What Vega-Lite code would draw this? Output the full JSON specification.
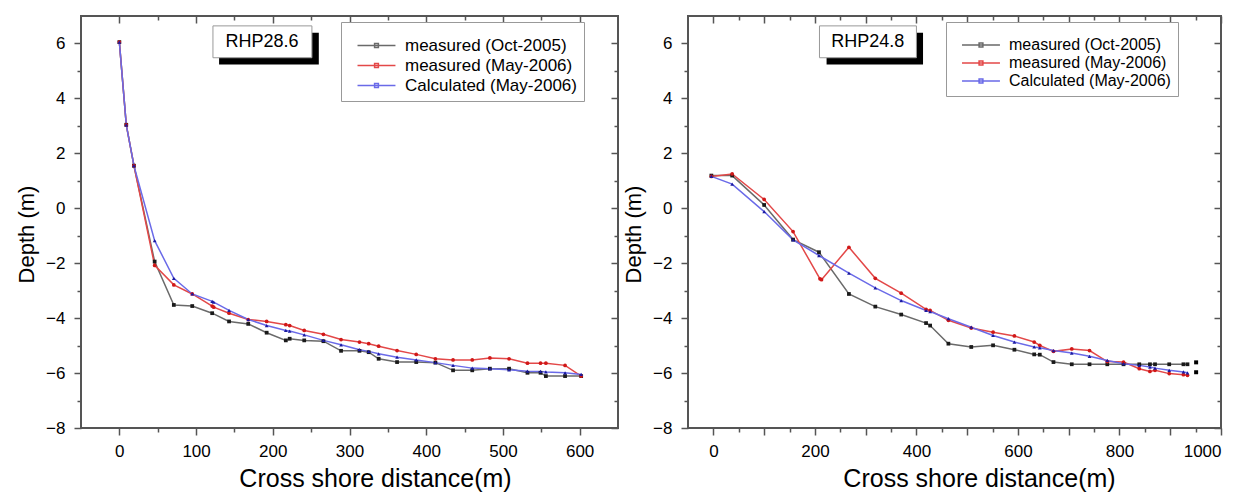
{
  "$schema": "https://vega.github.io/schema/vega-lite/v6.json",
  "padding": {"left": 14, "top": 14, "right": 5, "bottom": 0},
  "config": {
    "view": {"stroke": "#555", "strokeWidth": 2},
    "font": "Liberation Sans",
    "axis": {"labelFont": "Liberation Sans", "labelFontSize": 17, "labelColor": "#000", "titleFont": "Liberation Sans", "titleFontWeight": "normal", "titleColor": "#000", "tickColor": "#555", "tickWidth": 1.5, "domain": false, "grid": false, "format": "d"},
    "legend": {"labelFont": "Liberation Sans", "labelColor": "#000", "labelLimit": 400}
  },
  "datasets": {
    "left": [
      {"s": "measured (Oct-2005)", "x": 0, "y": 6.05}, {"s": "measured (Oct-2005)", "x": 9, "y": 3.04}, {"s": "measured (Oct-2005)", "x": 19, "y": 1.55}, {"s": "measured (Oct-2005)", "x": 46, "y": -1.94}, {"s": "measured (Oct-2005)", "x": 71, "y": -3.52}, {"s": "measured (Oct-2005)", "x": 95, "y": -3.56}, {"s": "measured (Oct-2005)", "x": 121, "y": -3.82}, {"s": "measured (Oct-2005)", "x": 143, "y": -4.12}, {"s": "measured (Oct-2005)", "x": 168, "y": -4.21}, {"s": "measured (Oct-2005)", "x": 192, "y": -4.53}, {"s": "measured (Oct-2005)", "x": 217, "y": -4.81}, {"s": "measured (Oct-2005)", "x": 222, "y": -4.75}, {"s": "measured (Oct-2005)", "x": 241, "y": -4.81}, {"s": "measured (Oct-2005)", "x": 266, "y": -4.84}, {"s": "measured (Oct-2005)", "x": 289, "y": -5.19}, {"s": "measured (Oct-2005)", "x": 313, "y": -5.19}, {"s": "measured (Oct-2005)", "x": 325, "y": -5.24}, {"s": "measured (Oct-2005)", "x": 338, "y": -5.48}, {"s": "measured (Oct-2005)", "x": 362, "y": -5.6}, {"s": "measured (Oct-2005)", "x": 387, "y": -5.6}, {"s": "measured (Oct-2005)", "x": 412, "y": -5.62}, {"s": "measured (Oct-2005)", "x": 435, "y": -5.9}, {"s": "measured (Oct-2005)", "x": 460, "y": -5.9}, {"s": "measured (Oct-2005)", "x": 483, "y": -5.84}, {"s": "measured (Oct-2005)", "x": 508, "y": -5.84}, {"s": "measured (Oct-2005)", "x": 532, "y": -5.99}, {"s": "measured (Oct-2005)", "x": 549, "y": -5.99}, {"s": "measured (Oct-2005)", "x": 556, "y": -6.11}, {"s": "measured (Oct-2005)", "x": 581, "y": -6.11}, {"s": "measured (Oct-2005)", "x": 602, "y": -6.11},
      {"s": "measured (May-2006)", "x": 0, "y": 6.05}, {"s": "measured (May-2006)", "x": 9, "y": 3.04}, {"s": "measured (May-2006)", "x": 19, "y": 1.55}, {"s": "measured (May-2006)", "x": 46, "y": -2.08}, {"s": "measured (May-2006)", "x": 71, "y": -2.79}, {"s": "measured (May-2006)", "x": 95, "y": -3.12}, {"s": "measured (May-2006)", "x": 121, "y": -3.56}, {"s": "measured (May-2006)", "x": 123, "y": -3.6}, {"s": "measured (May-2006)", "x": 143, "y": -3.82}, {"s": "measured (May-2006)", "x": 168, "y": -4.05}, {"s": "measured (May-2006)", "x": 192, "y": -4.12}, {"s": "measured (May-2006)", "x": 217, "y": -4.24}, {"s": "measured (May-2006)", "x": 222, "y": -4.27}, {"s": "measured (May-2006)", "x": 241, "y": -4.45}, {"s": "measured (May-2006)", "x": 266, "y": -4.59}, {"s": "measured (May-2006)", "x": 289, "y": -4.78}, {"s": "measured (May-2006)", "x": 313, "y": -4.87}, {"s": "measured (May-2006)", "x": 325, "y": -4.93}, {"s": "measured (May-2006)", "x": 338, "y": -5.02}, {"s": "measured (May-2006)", "x": 362, "y": -5.18}, {"s": "measured (May-2006)", "x": 387, "y": -5.32}, {"s": "measured (May-2006)", "x": 412, "y": -5.48}, {"s": "measured (May-2006)", "x": 435, "y": -5.52}, {"s": "measured (May-2006)", "x": 460, "y": -5.52}, {"s": "measured (May-2006)", "x": 483, "y": -5.45}, {"s": "measured (May-2006)", "x": 508, "y": -5.48}, {"s": "measured (May-2006)", "x": 532, "y": -5.64}, {"s": "measured (May-2006)", "x": 549, "y": -5.64}, {"s": "measured (May-2006)", "x": 556, "y": -5.64}, {"s": "measured (May-2006)", "x": 581, "y": -5.72}, {"s": "measured (May-2006)", "x": 602, "y": -6.11},
      {"s": "Calculated (May-2006)", "x": 0, "y": 6.05}, {"s": "Calculated (May-2006)", "x": 9, "y": 3.04}, {"s": "Calculated (May-2006)", "x": 19, "y": 1.55}, {"s": "Calculated (May-2006)", "x": 46, "y": -1.18}, {"s": "Calculated (May-2006)", "x": 71, "y": -2.55}, {"s": "Calculated (May-2006)", "x": 95, "y": -3.12}, {"s": "Calculated (May-2006)", "x": 121, "y": -3.39}, {"s": "Calculated (May-2006)", "x": 123, "y": -3.42}, {"s": "Calculated (May-2006)", "x": 143, "y": -3.72}, {"s": "Calculated (May-2006)", "x": 168, "y": -4.05}, {"s": "Calculated (May-2006)", "x": 192, "y": -4.27}, {"s": "Calculated (May-2006)", "x": 217, "y": -4.45}, {"s": "Calculated (May-2006)", "x": 222, "y": -4.47}, {"s": "Calculated (May-2006)", "x": 241, "y": -4.61}, {"s": "Calculated (May-2006)", "x": 266, "y": -4.81}, {"s": "Calculated (May-2006)", "x": 289, "y": -4.97}, {"s": "Calculated (May-2006)", "x": 313, "y": -5.15}, {"s": "Calculated (May-2006)", "x": 325, "y": -5.21}, {"s": "Calculated (May-2006)", "x": 338, "y": -5.3}, {"s": "Calculated (May-2006)", "x": 362, "y": -5.42}, {"s": "Calculated (May-2006)", "x": 387, "y": -5.52}, {"s": "Calculated (May-2006)", "x": 412, "y": -5.62}, {"s": "Calculated (May-2006)", "x": 435, "y": -5.72}, {"s": "Calculated (May-2006)", "x": 460, "y": -5.82}, {"s": "Calculated (May-2006)", "x": 483, "y": -5.84}, {"s": "Calculated (May-2006)", "x": 508, "y": -5.88}, {"s": "Calculated (May-2006)", "x": 532, "y": -5.93}, {"s": "Calculated (May-2006)", "x": 549, "y": -5.94}, {"s": "Calculated (May-2006)", "x": 556, "y": -5.96}, {"s": "Calculated (May-2006)", "x": 581, "y": -5.99}, {"s": "Calculated (May-2006)", "x": 602, "y": -6.05}
    ],
    "right": [
      {"s": "measured (Oct-2005)", "x": -4, "y": 1.19}, {"s": "measured (Oct-2005)", "x": 37, "y": 1.19}, {"s": "measured (Oct-2005)", "x": 100, "y": 0.12}, {"s": "measured (Oct-2005)", "x": 157, "y": -1.14}, {"s": "measured (Oct-2005)", "x": 208, "y": -1.6}, {"s": "measured (Oct-2005)", "x": 267, "y": -3.12}, {"s": "measured (Oct-2005)", "x": 319, "y": -3.58}, {"s": "measured (Oct-2005)", "x": 370, "y": -3.87}, {"s": "measured (Oct-2005)", "x": 419, "y": -4.18}, {"s": "measured (Oct-2005)", "x": 427, "y": -4.27}, {"s": "measured (Oct-2005)", "x": 463, "y": -4.93}, {"s": "measured (Oct-2005)", "x": 508, "y": -5.05}, {"s": "measured (Oct-2005)", "x": 551, "y": -4.99}, {"s": "measured (Oct-2005)", "x": 593, "y": -5.15}, {"s": "measured (Oct-2005)", "x": 632, "y": -5.32}, {"s": "measured (Oct-2005)", "x": 643, "y": -5.33}, {"s": "measured (Oct-2005)", "x": 670, "y": -5.6}, {"s": "measured (Oct-2005)", "x": 706, "y": -5.68}, {"s": "measured (Oct-2005)", "x": 741, "y": -5.68}, {"s": "measured (Oct-2005)", "x": 776, "y": -5.68}, {"s": "measured (Oct-2005)", "x": 808, "y": -5.68}, {"s": "measured (Oct-2005)", "x": 839, "y": -5.68}, {"s": "measured (Oct-2005)", "x": 860, "y": -5.68}, {"s": "measured (Oct-2005)", "x": 870, "y": -5.68}, {"s": "measured (Oct-2005)", "x": 898, "y": -5.68}, {"s": "measured (Oct-2005)", "x": 926, "y": -5.68}, {"s": "measured (Oct-2005)", "x": 934, "y": -5.68},
      {"s": "measured (May-2006)", "x": -4, "y": 1.16}, {"s": "measured (May-2006)", "x": 37, "y": 1.25}, {"s": "measured (May-2006)", "x": 100, "y": 0.32}, {"s": "measured (May-2006)", "x": 157, "y": -0.85}, {"s": "measured (May-2006)", "x": 210, "y": -2.57}, {"s": "measured (May-2006)", "x": 213, "y": -2.6}, {"s": "measured (May-2006)", "x": 267, "y": -1.42}, {"s": "measured (May-2006)", "x": 319, "y": -2.55}, {"s": "measured (May-2006)", "x": 370, "y": -3.09}, {"s": "measured (May-2006)", "x": 419, "y": -3.68}, {"s": "measured (May-2006)", "x": 427, "y": -3.72}, {"s": "measured (May-2006)", "x": 463, "y": -4.08}, {"s": "measured (May-2006)", "x": 508, "y": -4.36}, {"s": "measured (May-2006)", "x": 551, "y": -4.51}, {"s": "measured (May-2006)", "x": 593, "y": -4.65}, {"s": "measured (May-2006)", "x": 632, "y": -4.87}, {"s": "measured (May-2006)", "x": 643, "y": -4.99}, {"s": "measured (May-2006)", "x": 670, "y": -5.21}, {"s": "measured (May-2006)", "x": 706, "y": -5.12}, {"s": "measured (May-2006)", "x": 741, "y": -5.18}, {"s": "measured (May-2006)", "x": 776, "y": -5.58}, {"s": "measured (May-2006)", "x": 808, "y": -5.6}, {"s": "measured (May-2006)", "x": 839, "y": -5.84}, {"s": "measured (May-2006)", "x": 860, "y": -5.94}, {"s": "measured (May-2006)", "x": 870, "y": -5.9}, {"s": "measured (May-2006)", "x": 898, "y": -6.02}, {"s": "measured (May-2006)", "x": 926, "y": -6.06}, {"s": "measured (May-2006)", "x": 934, "y": -6.08},
      {"s": "Calculated (May-2006)", "x": -4, "y": 1.16}, {"s": "Calculated (May-2006)", "x": 37, "y": 0.88}, {"s": "Calculated (May-2006)", "x": 100, "y": -0.12}, {"s": "Calculated (May-2006)", "x": 157, "y": -1.15}, {"s": "Calculated (May-2006)", "x": 208, "y": -1.72}, {"s": "Calculated (May-2006)", "x": 267, "y": -2.36}, {"s": "Calculated (May-2006)", "x": 319, "y": -2.9}, {"s": "Calculated (May-2006)", "x": 370, "y": -3.36}, {"s": "Calculated (May-2006)", "x": 419, "y": -3.72}, {"s": "Calculated (May-2006)", "x": 427, "y": -3.76}, {"s": "Calculated (May-2006)", "x": 463, "y": -4.02}, {"s": "Calculated (May-2006)", "x": 508, "y": -4.33}, {"s": "Calculated (May-2006)", "x": 551, "y": -4.63}, {"s": "Calculated (May-2006)", "x": 593, "y": -4.87}, {"s": "Calculated (May-2006)", "x": 632, "y": -5.05}, {"s": "Calculated (May-2006)", "x": 643, "y": -5.08}, {"s": "Calculated (May-2006)", "x": 670, "y": -5.18}, {"s": "Calculated (May-2006)", "x": 706, "y": -5.27}, {"s": "Calculated (May-2006)", "x": 741, "y": -5.39}, {"s": "Calculated (May-2006)", "x": 776, "y": -5.54}, {"s": "Calculated (May-2006)", "x": 808, "y": -5.66}, {"s": "Calculated (May-2006)", "x": 839, "y": -5.72}, {"s": "Calculated (May-2006)", "x": 860, "y": -5.78}, {"s": "Calculated (May-2006)", "x": 870, "y": -5.82}, {"s": "Calculated (May-2006)", "x": 898, "y": -5.9}, {"s": "Calculated (May-2006)", "x": 926, "y": -5.96}, {"s": "Calculated (May-2006)", "x": 934, "y": -5.99}
    ]
  },
  "spacing": 1,
  "resolve": {"scale": {"color": "independent", "fill": "independent", "shape": "independent"}, "legend": {"color": "independent", "fill": "independent", "shape": "independent"}},
  "hconcat": [
    {
      "width": 537, "height": 412,
      "resolve": {"axis": {"x": "independent", "y": "independent"}, "legend": {"color": "independent", "fill": "independent", "shape": "independent"}},
      "layer": [
        {
          "data": {"name": "left"},
          "mark": {"type": "line", "strokeWidth": 1.5},
          "encoding": {
            "x": {"field": "x", "type": "quantitative", "scale": {"domain": [-50, 650], "nice": false, "zero": false},
              "axis": {"orient": "bottom", "values": [0, 50, 100, 150, 200, 250, 300, 350, 400, 450, 500, 550, 600], "labelExpr": "datum.value % 100 === 0 ? datum.label : ''", "tickSize": {"condition": {"test": "datum.value % 100 === 0", "value": 7}, "value": 4}, "labelPadding": 8, "title": "Cross shore distance(m)", "titleFontSize": 25, "titlePadding": 7, "titleX": 294}},
            "y": {"field": "y", "type": "quantitative", "scale": {"domain": [-8, 7], "nice": false, "zero": false},
              "axis": {"orient": "left", "values": [-8, -7, -6, -5, -4, -3, -2, -1, 0, 1, 2, 3, 4, 5, 6], "labelExpr": "datum.value % 2 === 0 ? datum.label : ''", "tickSize": {"condition": {"test": "datum.value % 2 === 0", "value": 7}, "value": 4}, "labelPadding": 9, "title": "Depth (m)", "titleFontSize": 22, "titlePadding": 7, "titleY": 218}},
            "color": {"field": "s", "type": "nominal", "sort": ["measured (Oct-2005)", "measured (May-2006)", "Calculated (May-2006)"],
              "scale": {"domain": ["measured (Oct-2005)", "measured (May-2006)", "Calculated (May-2006)"], "range": ["#6a6a6a", "#e34848", "#6a6ae8"]},
              "legend": {"orient": "none", "legendX": 260, "legendY": 6, "title": " ", "titleFontSize": 5, "titlePadding": 3, "strokeColor": "#999", "fillColor": "white", "padding": 7, "labelFontSize": 17, "labelExpr": "datum.label + '\u00a0'", "symbolType": "M0.16,0H6.16M2.86,-0.3H3.46V0.3H2.86Z", "symbolSize": 160, "symbolStrokeWidth": 1.5, "labelOffset": 40, "rowPadding": 2}}
          }
        },
        {
          "data": {"name": "left"},
          "mark": {"type": "point", "filled": true, "size": 14, "opacity": 1},
          "encoding": {
            "x": {"field": "x", "type": "quantitative", "axis": {"orient": "top", "labels": false, "title": null, "values": [0, 50, 100, 150, 200, 250, 300, 350, 400, 450, 500, 550, 600], "tickSize": {"condition": {"test": "datum.value % 100 === 0", "value": -7}, "value": -4}}},
            "y": {"field": "y", "type": "quantitative", "axis": {"orient": "right", "labels": false, "title": null, "values": [-8, -7, -6, -5, -4, -3, -2, -1, 0, 1, 2, 3, 4, 5, 6], "tickSize": {"condition": {"test": "datum.value % 2 === 0", "value": -7}, "value": -4}}},
            "fill": {"field": "s", "type": "nominal", "scale": {"domain": ["measured (Oct-2005)", "measured (May-2006)", "Calculated (May-2006)"], "range": ["#1a1a1a", "#d01818", "#1a1aa0"]}, "legend": null},
            "shape": {"field": "s", "type": "nominal", "scale": {"domain": ["measured (Oct-2005)", "measured (May-2006)", "Calculated (May-2006)"], "range": ["square", "circle", "triangle-up"]}, "legend": null}
          }
        },
        {
          "data": {"values": [{}]},
          "mark": {"type": "rect", "color": "#000"},
          "encoding": {"x": {"datum": 130, "type": "quantitative", "axis": null}, "x2": {"datum": 260}, "y": {"datum": 6.39, "type": "quantitative", "axis": null}, "y2": {"datum": 5.23}}
        },
        {
          "data": {"values": [{}]},
          "mark": {"type": "rect", "fill": "#fff", "stroke": "#999", "strokeWidth": 1},
          "encoding": {"x": {"datum": 122, "type": "quantitative", "axis": null}, "x2": {"datum": 251}, "y": {"datum": 6.64, "type": "quantitative", "axis": null}, "y2": {"datum": 5.48}}
        },
        {
          "data": {"values": [{"label": "RHP28.6"}]},
          "mark": {"type": "text", "fontSize": 18, "font": "Liberation Sans", "color": "#000", "align": "center", "baseline": "middle"},
          "encoding": {"text": {"field": "label"}, "x": {"datum": 186, "type": "quantitative", "axis": null}, "y": {"datum": 6.06, "type": "quantitative", "axis": null}}
        }
      ]
    },
    {
      "width": 533, "height": 412,
      "resolve": {"axis": {"x": "independent", "y": "independent"}, "legend": {"color": "independent", "fill": "independent", "shape": "independent"}},
      "layer": [
        {
          "data": {"name": "right"},
          "mark": {"type": "line", "strokeWidth": 1.5},
          "encoding": {
            "x": {"field": "x", "type": "quantitative", "scale": {"domain": [-50, 1000], "nice": false, "zero": false},
              "axis": {"orient": "bottom", "values": [0, 50, 100, 150, 200, 250, 300, 350, 400, 450, 500, 550, 600, 650, 700, 750, 800, 850, 900, 950, 1000], "labelExpr": "datum.value % 100 === 0 ? datum.label : ''", "tickSize": {"condition": {"test": "datum.value % 100 === 0", "value": 7}, "value": 4}, "labelPadding": 8, "title": "Cross shore distance(m)", "titleFontSize": 25, "titlePadding": 7, "titleX": 291}},
            "y": {"field": "y", "type": "quantitative", "scale": {"domain": [-8, 7], "nice": false, "zero": false},
              "axis": {"orient": "left", "values": [-8, -7, -6, -5, -4, -3, -2, -1, 0, 1, 2, 3, 4, 5, 6], "labelExpr": "datum.value % 2 === 0 ? datum.label : ''", "tickSize": {"condition": {"test": "datum.value % 2 === 0", "value": 7}, "value": 4}, "labelPadding": 9, "title": "Depth (m)", "titleFontSize": 22, "titlePadding": 7, "titleY": 218}},
            "color": {"field": "s", "type": "nominal", "sort": ["measured (Oct-2005)", "measured (May-2006)", "Calculated (May-2006)"],
              "scale": {"domain": ["measured (Oct-2005)", "measured (May-2006)", "Calculated (May-2006)"], "range": ["#6a6a6a", "#e34848", "#6a6ae8"]},
              "legend": {"orient": "none", "legendX": 258, "legendY": 6, "title": " ", "titleFontSize": 5, "titlePadding": 3, "strokeColor": "#999", "fillColor": "white", "padding": 7, "labelFontSize": 16, "labelExpr": "datum.label + '\u00a0\u00a0\u00a0\u00a0'", "symbolType": "M0.16,0H6.16M2.86,-0.3H3.46V0.3H2.86Z", "symbolSize": 160, "symbolStrokeWidth": 1.5, "labelOffset": 40, "rowPadding": 2}}
          }
        },
        {
          "data": {"name": "right"},
          "mark": {"type": "point", "filled": true, "size": 14, "opacity": 1},
          "encoding": {
            "x": {"field": "x", "type": "quantitative", "axis": {"orient": "top", "labels": false, "title": null, "values": [0, 50, 100, 150, 200, 250, 300, 350, 400, 450, 500, 550, 600, 650, 700, 750, 800, 850, 900, 950, 1000], "tickSize": {"condition": {"test": "datum.value % 100 === 0", "value": -7}, "value": -4}}},
            "y": {"field": "y", "type": "quantitative", "axis": {"orient": "right", "labels": false, "title": null, "values": [-8, -7, -6, -5, -4, -3, -2, -1, 0, 1, 2, 3, 4, 5, 6], "tickSize": {"condition": {"test": "datum.value % 2 === 0", "value": -7}, "value": -4}}},
            "fill": {"field": "s", "type": "nominal", "scale": {"domain": ["measured (Oct-2005)", "measured (May-2006)", "Calculated (May-2006)"], "range": ["#1a1a1a", "#d01818", "#1a1aa0"]}, "legend": null},
            "shape": {"field": "s", "type": "nominal", "scale": {"domain": ["measured (Oct-2005)", "measured (May-2006)", "Calculated (May-2006)"], "range": ["square", "circle", "triangle-up"]}, "legend": null}
          }
        },
        {
          "data": {"values": [{"x": 951, "y": -5.61}, {"x": 951, "y": -5.97}]},
          "mark": {"type": "square", "color": "#000", "size": 16, "opacity": 1},
          "encoding": {"x": {"field": "x", "type": "quantitative", "axis": null}, "y": {"field": "y", "type": "quantitative", "axis": null}}
        },
        {
          "data": {"values": [{}]},
          "mark": {"type": "rect", "color": "#000"},
          "encoding": {"x": {"datum": 223, "type": "quantitative", "axis": null}, "x2": {"datum": 413}, "y": {"datum": 6.39, "type": "quantitative", "axis": null}, "y2": {"datum": 5.23}}
        },
        {
          "data": {"values": [{}]},
          "mark": {"type": "rect", "fill": "#fff", "stroke": "#999", "strokeWidth": 1},
          "encoding": {"x": {"datum": 209, "type": "quantitative", "axis": null}, "x2": {"datum": 400}, "y": {"datum": 6.64, "type": "quantitative", "axis": null}, "y2": {"datum": 5.48}}
        },
        {
          "data": {"values": [{"label": "RHP24.8"}]},
          "mark": {"type": "text", "fontSize": 18, "font": "Liberation Sans", "color": "#000", "align": "center", "baseline": "middle"},
          "encoding": {"text": {"field": "label"}, "x": {"datum": 304, "type": "quantitative", "axis": null}, "y": {"datum": 6.06, "type": "quantitative", "axis": null}}
        }
      ]
    }
  ]
}
